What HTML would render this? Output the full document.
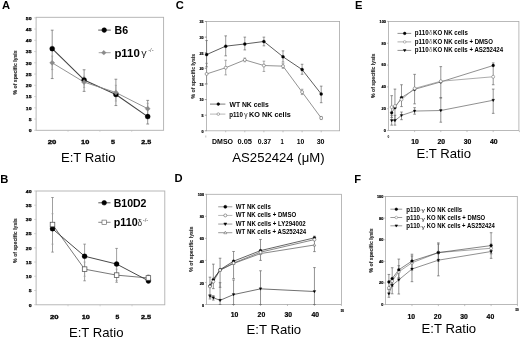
<!DOCTYPE html>
<html><head><meta charset="utf-8"><style>
html,body{margin:0;padding:0;background:#fff;}
body{width:520px;height:337px;overflow:hidden;}
svg{display:block;will-change:transform;filter:blur(0.3px);font-family:"Liberation Sans", sans-serif;}
</style></head><body>
<svg width="520" height="337" viewBox="0 0 520 337">
<rect width="520" height="337" fill="#fff"/>
<text x="1.90" y="8.90" font-size="11.2" text-anchor="start" font-weight="bold" fill="#000" >A</text>
<text x="0.30" y="182.70" font-size="11.2" text-anchor="start" font-weight="bold" fill="#000" >B</text>
<text x="175.70" y="8.80" font-size="11.2" text-anchor="start" font-weight="bold" fill="#000" >C</text>
<text x="174.50" y="182.00" font-size="11.2" text-anchor="start" font-weight="bold" fill="#000" >D</text>
<text x="355.00" y="8.90" font-size="11.2" text-anchor="start" font-weight="bold" fill="#000" >E</text>
<text x="354.30" y="182.80" font-size="11.2" text-anchor="start" font-weight="bold" fill="#000" >F</text>
<rect x="36.10" y="17.30" width="127.50" height="113.00" fill="none" stroke="#b0b0b0" stroke-width="0.9"/>
<line x1="34.10" y1="130.30" x2="36.10" y2="130.30" stroke="#bbb" stroke-width="0.6"/>
<text x="31.50" y="132.10" font-size="4.2" text-anchor="end" font-weight="bold" fill="#000" textLength="2.85" lengthAdjust="spacingAndGlyphs" stroke="#000" stroke-width="0.25">0</text>
<line x1="34.10" y1="119.05" x2="36.10" y2="119.05" stroke="#bbb" stroke-width="0.6"/>
<text x="31.50" y="120.85" font-size="4.2" text-anchor="end" font-weight="bold" fill="#000" textLength="2.85" lengthAdjust="spacingAndGlyphs" stroke="#000" stroke-width="0.25">5</text>
<line x1="34.10" y1="107.80" x2="36.10" y2="107.80" stroke="#bbb" stroke-width="0.6"/>
<text x="31.50" y="109.60" font-size="4.2" text-anchor="end" font-weight="bold" fill="#000" textLength="5.7" lengthAdjust="spacingAndGlyphs" stroke="#000" stroke-width="0.25">10</text>
<line x1="34.10" y1="96.55" x2="36.10" y2="96.55" stroke="#bbb" stroke-width="0.6"/>
<text x="31.50" y="98.35" font-size="4.2" text-anchor="end" font-weight="bold" fill="#000" textLength="5.7" lengthAdjust="spacingAndGlyphs" stroke="#000" stroke-width="0.25">15</text>
<line x1="34.10" y1="85.30" x2="36.10" y2="85.30" stroke="#bbb" stroke-width="0.6"/>
<text x="31.50" y="87.10" font-size="4.2" text-anchor="end" font-weight="bold" fill="#000" textLength="5.7" lengthAdjust="spacingAndGlyphs" stroke="#000" stroke-width="0.25">20</text>
<line x1="34.10" y1="74.05" x2="36.10" y2="74.05" stroke="#bbb" stroke-width="0.6"/>
<text x="31.50" y="75.85" font-size="4.2" text-anchor="end" font-weight="bold" fill="#000" textLength="5.7" lengthAdjust="spacingAndGlyphs" stroke="#000" stroke-width="0.25">25</text>
<line x1="34.10" y1="62.80" x2="36.10" y2="62.80" stroke="#bbb" stroke-width="0.6"/>
<text x="31.50" y="64.60" font-size="4.2" text-anchor="end" font-weight="bold" fill="#000" textLength="5.7" lengthAdjust="spacingAndGlyphs" stroke="#000" stroke-width="0.25">30</text>
<line x1="34.10" y1="51.55" x2="36.10" y2="51.55" stroke="#bbb" stroke-width="0.6"/>
<text x="31.50" y="53.35" font-size="4.2" text-anchor="end" font-weight="bold" fill="#000" textLength="5.7" lengthAdjust="spacingAndGlyphs" stroke="#000" stroke-width="0.25">35</text>
<line x1="34.10" y1="40.30" x2="36.10" y2="40.30" stroke="#bbb" stroke-width="0.6"/>
<text x="31.50" y="42.10" font-size="4.2" text-anchor="end" font-weight="bold" fill="#000" textLength="5.7" lengthAdjust="spacingAndGlyphs" stroke="#000" stroke-width="0.25">40</text>
<line x1="34.10" y1="29.05" x2="36.10" y2="29.05" stroke="#bbb" stroke-width="0.6"/>
<text x="31.50" y="30.85" font-size="4.2" text-anchor="end" font-weight="bold" fill="#000" textLength="5.7" lengthAdjust="spacingAndGlyphs" stroke="#000" stroke-width="0.25">45</text>
<line x1="34.10" y1="17.80" x2="36.10" y2="17.80" stroke="#bbb" stroke-width="0.6"/>
<text x="31.50" y="19.60" font-size="4.2" text-anchor="end" font-weight="bold" fill="#000" textLength="5.7" lengthAdjust="spacingAndGlyphs" stroke="#000" stroke-width="0.25">50</text>
<line x1="68.00" y1="130.30" x2="68.00" y2="131.80" stroke="#bbb" stroke-width="0.6"/>
<line x1="99.90" y1="130.30" x2="99.90" y2="131.80" stroke="#bbb" stroke-width="0.6"/>
<line x1="131.70" y1="130.30" x2="131.70" y2="131.80" stroke="#bbb" stroke-width="0.6"/>
<text x="52.00" y="144.00" font-size="5.6" text-anchor="middle" font-weight="bold" fill="#000" textLength="8.6" lengthAdjust="spacingAndGlyphs" stroke="#000" stroke-width="0.3">20</text>
<text x="85.20" y="144.00" font-size="5.6" text-anchor="middle" font-weight="bold" fill="#000" textLength="8.2" lengthAdjust="spacingAndGlyphs" stroke="#000" stroke-width="0.3">10</text>
<text x="113.00" y="144.00" font-size="5.6" text-anchor="middle" font-weight="bold" fill="#000" textLength="4.0" lengthAdjust="spacingAndGlyphs" stroke="#000" stroke-width="0.3">5</text>
<text x="146.20" y="144.00" font-size="5.6" text-anchor="middle" font-weight="bold" fill="#000" textLength="9.9" lengthAdjust="spacingAndGlyphs" stroke="#000" stroke-width="0.3">2.5</text>
<text x="60.90" y="161.90" font-size="13.2" text-anchor="start" font-weight="normal" fill="#000" textLength="54.6" lengthAdjust="spacingAndGlyphs" >E:T Ratio</text>
<text transform="translate(17.00,72.40) rotate(-90)" font-size="4.6" fill="#222" stroke="#444" stroke-width="0.12" text-anchor="middle" font-weight="bold" textLength="44.00" lengthAdjust="spacingAndGlyphs">% of specific lysis</text>
<line x1="52.20" y1="30.18" x2="52.20" y2="78.55" stroke="#777" stroke-width="0.8"/>
<line x1="50.80" y1="30.18" x2="53.60" y2="30.18" stroke="#777" stroke-width="0.8"/>
<line x1="50.80" y1="78.55" x2="53.60" y2="78.55" stroke="#777" stroke-width="0.8"/>
<line x1="84.10" y1="69.78" x2="84.10" y2="91.38" stroke="#777" stroke-width="0.8"/>
<line x1="82.70" y1="69.78" x2="85.50" y2="69.78" stroke="#777" stroke-width="0.8"/>
<line x1="82.70" y1="91.38" x2="85.50" y2="91.38" stroke="#777" stroke-width="0.8"/>
<line x1="115.90" y1="79.23" x2="115.90" y2="105.55" stroke="#777" stroke-width="0.8"/>
<line x1="114.50" y1="79.23" x2="117.30" y2="79.23" stroke="#777" stroke-width="0.8"/>
<line x1="114.50" y1="105.55" x2="117.30" y2="105.55" stroke="#777" stroke-width="0.8"/>
<line x1="147.70" y1="100.38" x2="147.70" y2="124.00" stroke="#777" stroke-width="0.8"/>
<line x1="146.30" y1="100.38" x2="149.10" y2="100.38" stroke="#777" stroke-width="0.8"/>
<line x1="146.30" y1="124.00" x2="149.10" y2="124.00" stroke="#777" stroke-width="0.8"/>
<line x1="52.20" y1="56.05" x2="52.20" y2="69.55" stroke="#999" stroke-width="0.6"/>
<line x1="51.10" y1="56.05" x2="53.30" y2="56.05" stroke="#999" stroke-width="0.6"/>
<line x1="51.10" y1="69.55" x2="53.30" y2="69.55" stroke="#999" stroke-width="0.6"/>
<line x1="84.10" y1="76.30" x2="84.10" y2="87.55" stroke="#999" stroke-width="0.6"/>
<line x1="83.00" y1="76.30" x2="85.20" y2="76.30" stroke="#999" stroke-width="0.6"/>
<line x1="83.00" y1="87.55" x2="85.20" y2="87.55" stroke="#999" stroke-width="0.6"/>
<line x1="115.90" y1="85.30" x2="115.90" y2="101.05" stroke="#999" stroke-width="0.6"/>
<line x1="114.80" y1="85.30" x2="117.00" y2="85.30" stroke="#999" stroke-width="0.6"/>
<line x1="114.80" y1="101.05" x2="117.00" y2="101.05" stroke="#999" stroke-width="0.6"/>
<line x1="147.70" y1="103.30" x2="147.70" y2="114.55" stroke="#999" stroke-width="0.6"/>
<line x1="146.60" y1="103.30" x2="148.80" y2="103.30" stroke="#999" stroke-width="0.6"/>
<line x1="146.60" y1="114.55" x2="148.80" y2="114.55" stroke="#999" stroke-width="0.6"/>
<polyline points="52.20,48.63 84.10,79.90 115.90,94.53 147.70,116.58" fill="none" stroke="#444" stroke-width="1.1" stroke-linejoin="round"/>
<polyline points="52.20,62.80 84.10,82.15 115.90,92.50 147.70,108.70" fill="none" stroke="#888" stroke-width="0.9" stroke-linejoin="round"/>
<circle cx="52.20" cy="48.63" r="2.5" fill="#000" stroke="#000" stroke-width="0.3"/>
<circle cx="84.10" cy="79.90" r="2.5" fill="#000" stroke="#000" stroke-width="0.3"/>
<circle cx="115.90" cy="94.53" r="2.5" fill="#000" stroke="#000" stroke-width="0.3"/>
<circle cx="147.70" cy="116.58" r="2.5" fill="#000" stroke="#000" stroke-width="0.3"/>
<polygon points="52.20,60.20 54.80,62.80 52.20,65.40 49.60,62.80" fill="#8a8a8a" stroke="#8a8a8a" stroke-width="0.3"/>
<polygon points="84.10,79.55 86.70,82.15 84.10,84.75 81.50,82.15" fill="#8a8a8a" stroke="#8a8a8a" stroke-width="0.3"/>
<polygon points="115.90,89.90 118.50,92.50 115.90,95.10 113.30,92.50" fill="#8a8a8a" stroke="#8a8a8a" stroke-width="0.3"/>
<polygon points="147.70,106.10 150.30,108.70 147.70,111.30 145.10,108.70" fill="#8a8a8a" stroke="#8a8a8a" stroke-width="0.3"/>
<line x1="98.20" y1="30.10" x2="110.80" y2="30.10" stroke="#444" stroke-width="0.9"/>
<circle cx="104.20" cy="30.10" r="2.3" fill="#000" stroke="#000" stroke-width="0.6"/>
<text x="114.60" y="34.20" font-size="10.4" text-anchor="start" font-weight="bold" fill="#000" textLength="13.6" lengthAdjust="spacingAndGlyphs" >B6</text>
<line x1="98.70" y1="52.70" x2="110.60" y2="52.70" stroke="#888" stroke-width="0.8"/>
<polygon points="103.80,50.30 106.20,52.70 103.80,55.10 101.40,52.70" fill="#8a8a8a" stroke="#8a8a8a" stroke-width="0.3"/>
<text x="114.40" y="57.10" font-size="10.4" text-anchor="start" font-weight="bold" fill="#000" textLength="25.4" lengthAdjust="spacingAndGlyphs" >p110</text>
<text x="141.30" y="56.40" font-size="8.6" text-anchor="start" font-weight="normal" fill="#222" textLength="5.4" lengthAdjust="spacingAndGlyphs" >&#947;</text>
<text x="148.20" y="52.30" font-size="5.2" text-anchor="start" font-weight="normal" fill="#555" textLength="5.4" lengthAdjust="spacingAndGlyphs" >-/-</text>
<rect x="36.10" y="191.00" width="128.70" height="113.80" fill="none" stroke="#b0b0b0" stroke-width="0.9"/>
<line x1="34.10" y1="304.70" x2="36.10" y2="304.70" stroke="#bbb" stroke-width="0.6"/>
<text x="31.50" y="306.50" font-size="4.2" text-anchor="end" font-weight="bold" fill="#000" textLength="2.85" lengthAdjust="spacingAndGlyphs" stroke="#000" stroke-width="0.25">0</text>
<line x1="34.10" y1="290.49" x2="36.10" y2="290.49" stroke="#bbb" stroke-width="0.6"/>
<text x="31.50" y="292.29" font-size="4.2" text-anchor="end" font-weight="bold" fill="#000" textLength="2.85" lengthAdjust="spacingAndGlyphs" stroke="#000" stroke-width="0.25">5</text>
<line x1="34.10" y1="276.27" x2="36.10" y2="276.27" stroke="#bbb" stroke-width="0.6"/>
<text x="31.50" y="278.07" font-size="4.2" text-anchor="end" font-weight="bold" fill="#000" textLength="5.7" lengthAdjust="spacingAndGlyphs" stroke="#000" stroke-width="0.25">10</text>
<line x1="34.10" y1="262.06" x2="36.10" y2="262.06" stroke="#bbb" stroke-width="0.6"/>
<text x="31.50" y="263.86" font-size="4.2" text-anchor="end" font-weight="bold" fill="#000" textLength="5.7" lengthAdjust="spacingAndGlyphs" stroke="#000" stroke-width="0.25">15</text>
<line x1="34.10" y1="247.84" x2="36.10" y2="247.84" stroke="#bbb" stroke-width="0.6"/>
<text x="31.50" y="249.64" font-size="4.2" text-anchor="end" font-weight="bold" fill="#000" textLength="5.7" lengthAdjust="spacingAndGlyphs" stroke="#000" stroke-width="0.25">20</text>
<line x1="34.10" y1="233.62" x2="36.10" y2="233.62" stroke="#bbb" stroke-width="0.6"/>
<text x="31.50" y="235.43" font-size="4.2" text-anchor="end" font-weight="bold" fill="#000" textLength="5.7" lengthAdjust="spacingAndGlyphs" stroke="#000" stroke-width="0.25">25</text>
<line x1="34.10" y1="219.41" x2="36.10" y2="219.41" stroke="#bbb" stroke-width="0.6"/>
<text x="31.50" y="221.21" font-size="4.2" text-anchor="end" font-weight="bold" fill="#000" textLength="5.7" lengthAdjust="spacingAndGlyphs" stroke="#000" stroke-width="0.25">30</text>
<line x1="34.10" y1="205.19" x2="36.10" y2="205.19" stroke="#bbb" stroke-width="0.6"/>
<text x="31.50" y="207.00" font-size="4.2" text-anchor="end" font-weight="bold" fill="#000" textLength="5.7" lengthAdjust="spacingAndGlyphs" stroke="#000" stroke-width="0.25">35</text>
<line x1="34.10" y1="190.98" x2="36.10" y2="190.98" stroke="#bbb" stroke-width="0.6"/>
<text x="31.50" y="192.78" font-size="4.2" text-anchor="end" font-weight="bold" fill="#000" textLength="5.7" lengthAdjust="spacingAndGlyphs" stroke="#000" stroke-width="0.25">40</text>
<line x1="68.00" y1="304.80" x2="68.00" y2="306.30" stroke="#bbb" stroke-width="0.6"/>
<line x1="100.10" y1="304.80" x2="100.10" y2="306.30" stroke="#bbb" stroke-width="0.6"/>
<line x1="132.00" y1="304.80" x2="132.00" y2="306.30" stroke="#bbb" stroke-width="0.6"/>
<text x="54.30" y="318.50" font-size="5.6" text-anchor="middle" font-weight="bold" fill="#000" textLength="8.6" lengthAdjust="spacingAndGlyphs" stroke="#000" stroke-width="0.3">20</text>
<text x="85.80" y="318.50" font-size="5.6" text-anchor="middle" font-weight="bold" fill="#000" textLength="8.2" lengthAdjust="spacingAndGlyphs" stroke="#000" stroke-width="0.3">10</text>
<text x="117.30" y="318.50" font-size="5.6" text-anchor="middle" font-weight="bold" fill="#000" textLength="3.8" lengthAdjust="spacingAndGlyphs" stroke="#000" stroke-width="0.3">5</text>
<text x="146.00" y="318.50" font-size="5.6" text-anchor="middle" font-weight="bold" fill="#000" textLength="10.2" lengthAdjust="spacingAndGlyphs" stroke="#000" stroke-width="0.3">2.5</text>
<text x="68.90" y="336.60" font-size="13.2" text-anchor="start" font-weight="normal" fill="#000" textLength="54.6" lengthAdjust="spacingAndGlyphs" >E:T Ratio</text>
<text transform="translate(17.20,240.60) rotate(-90)" font-size="4.6" fill="#222" stroke="#444" stroke-width="0.12" text-anchor="middle" font-weight="bold" textLength="44.60" lengthAdjust="spacingAndGlyphs">% of specific lysis</text>
<line x1="52.50" y1="197.52" x2="52.50" y2="252.10" stroke="#777" stroke-width="0.7"/>
<line x1="51.20" y1="197.52" x2="53.80" y2="197.52" stroke="#777" stroke-width="0.7"/>
<line x1="51.20" y1="252.10" x2="53.80" y2="252.10" stroke="#777" stroke-width="0.7"/>
<line x1="84.60" y1="244.14" x2="84.60" y2="280.82" stroke="#777" stroke-width="0.7"/>
<line x1="83.30" y1="244.14" x2="85.90" y2="244.14" stroke="#777" stroke-width="0.7"/>
<line x1="83.30" y1="280.82" x2="85.90" y2="280.82" stroke="#777" stroke-width="0.7"/>
<line x1="116.60" y1="248.41" x2="116.60" y2="282.24" stroke="#777" stroke-width="0.7"/>
<line x1="115.30" y1="248.41" x2="117.90" y2="248.41" stroke="#777" stroke-width="0.7"/>
<line x1="115.30" y1="282.24" x2="117.90" y2="282.24" stroke="#777" stroke-width="0.7"/>
<line x1="148.40" y1="275.42" x2="148.40" y2="283.38" stroke="#777" stroke-width="0.7"/>
<line x1="147.10" y1="275.42" x2="149.70" y2="275.42" stroke="#777" stroke-width="0.7"/>
<line x1="147.10" y1="283.38" x2="149.70" y2="283.38" stroke="#777" stroke-width="0.7"/>
<line x1="52.50" y1="213.72" x2="52.50" y2="244.14" stroke="#999" stroke-width="0.6"/>
<line x1="51.40" y1="213.72" x2="53.60" y2="213.72" stroke="#999" stroke-width="0.6"/>
<line x1="51.40" y1="244.14" x2="53.60" y2="244.14" stroke="#999" stroke-width="0.6"/>
<line x1="84.60" y1="262.06" x2="84.60" y2="276.27" stroke="#999" stroke-width="0.6"/>
<line x1="83.50" y1="262.06" x2="85.70" y2="262.06" stroke="#999" stroke-width="0.6"/>
<line x1="83.50" y1="276.27" x2="85.70" y2="276.27" stroke="#999" stroke-width="0.6"/>
<line x1="116.60" y1="269.16" x2="116.60" y2="280.53" stroke="#999" stroke-width="0.6"/>
<line x1="115.50" y1="269.16" x2="117.70" y2="269.16" stroke="#999" stroke-width="0.6"/>
<line x1="115.50" y1="280.53" x2="117.70" y2="280.53" stroke="#999" stroke-width="0.6"/>
<line x1="148.40" y1="274.85" x2="148.40" y2="280.53" stroke="#999" stroke-width="0.6"/>
<line x1="147.30" y1="274.85" x2="149.50" y2="274.85" stroke="#999" stroke-width="0.6"/>
<line x1="147.30" y1="280.53" x2="149.50" y2="280.53" stroke="#999" stroke-width="0.6"/>
<polyline points="52.50,224.53 84.60,269.16 116.60,275.13 148.40,277.98" fill="none" stroke="#555" stroke-width="0.8" stroke-linejoin="round"/>
<polyline points="52.50,228.79 84.60,256.23 116.60,264.05 148.40,280.82" fill="none" stroke="#333" stroke-width="0.9" stroke-linejoin="round"/>
<circle cx="52.50" cy="228.79" r="2.5" fill="#000" stroke="#000" stroke-width="0.3"/>
<circle cx="84.60" cy="256.23" r="2.5" fill="#000" stroke="#000" stroke-width="0.3"/>
<circle cx="116.60" cy="264.05" r="2.5" fill="#000" stroke="#000" stroke-width="0.3"/>
<circle cx="148.40" cy="280.82" r="2.5" fill="#000" stroke="#000" stroke-width="0.3"/>
<rect x="50.20" y="222.23" width="4.6" height="4.6" fill="#fff" stroke="#444" stroke-width="0.7"/>
<rect x="82.30" y="266.86" width="4.6" height="4.6" fill="#fff" stroke="#444" stroke-width="0.7"/>
<rect x="114.30" y="272.83" width="4.6" height="4.6" fill="#fff" stroke="#444" stroke-width="0.7"/>
<rect x="146.10" y="275.68" width="4.6" height="4.6" fill="#fff" stroke="#444" stroke-width="0.7"/>
<line x1="98.30" y1="202.80" x2="110.50" y2="202.80" stroke="#444" stroke-width="0.9"/>
<circle cx="104.20" cy="202.80" r="2.3" fill="#000" stroke="#000" stroke-width="0.6"/>
<text x="113.70" y="206.70" font-size="11" text-anchor="start" font-weight="bold" fill="#000" textLength="32.8" lengthAdjust="spacingAndGlyphs" >B10D2</text>
<line x1="98.30" y1="222.30" x2="110.50" y2="222.30" stroke="#555" stroke-width="0.7"/>
<rect x="102.00" y="220.10" width="4.4" height="4.4" fill="#fff" stroke="#555" stroke-width="0.6"/>
<text x="113.70" y="226.30" font-size="11" text-anchor="start" font-weight="bold" fill="#000" textLength="24" lengthAdjust="spacingAndGlyphs" >p110</text>
<text x="137.40" y="226.30" font-size="9.5" text-anchor="start" font-weight="normal" fill="#333" textLength="4.6" lengthAdjust="spacingAndGlyphs" >&#948;</text>
<text x="142.70" y="222.00" font-size="5.2" text-anchor="start" font-weight="normal" fill="#555" textLength="5.6" lengthAdjust="spacingAndGlyphs" >-/-</text>
<rect x="206.60" y="21.50" width="133.00" height="109.30" fill="none" stroke="#a8a8a8" stroke-width="0.8"/>
<line x1="204.80" y1="130.80" x2="206.60" y2="130.80" stroke="#555" stroke-width="0.6"/>
<text x="203.60" y="132.60" font-size="4.0" text-anchor="end" font-weight="bold" fill="#000" textLength="2.1" lengthAdjust="spacingAndGlyphs" stroke="#000" stroke-width="0.2">0</text>
<line x1="204.80" y1="115.19" x2="206.60" y2="115.19" stroke="#555" stroke-width="0.6"/>
<text x="203.60" y="116.98" font-size="4.0" text-anchor="end" font-weight="bold" fill="#000" textLength="2.1" lengthAdjust="spacingAndGlyphs" stroke="#000" stroke-width="0.2">5</text>
<line x1="204.80" y1="99.57" x2="206.60" y2="99.57" stroke="#555" stroke-width="0.6"/>
<text x="203.60" y="101.37" font-size="4.0" text-anchor="end" font-weight="bold" fill="#000" textLength="4.1" lengthAdjust="spacingAndGlyphs" stroke="#000" stroke-width="0.2">10</text>
<line x1="204.80" y1="83.96" x2="206.60" y2="83.96" stroke="#555" stroke-width="0.6"/>
<text x="203.60" y="85.76" font-size="4.0" text-anchor="end" font-weight="bold" fill="#000" textLength="4.1" lengthAdjust="spacingAndGlyphs" stroke="#000" stroke-width="0.2">15</text>
<line x1="204.80" y1="68.34" x2="206.60" y2="68.34" stroke="#555" stroke-width="0.6"/>
<text x="203.60" y="70.14" font-size="4.0" text-anchor="end" font-weight="bold" fill="#000" textLength="4.1" lengthAdjust="spacingAndGlyphs" stroke="#000" stroke-width="0.2">20</text>
<line x1="204.80" y1="52.73" x2="206.60" y2="52.73" stroke="#555" stroke-width="0.6"/>
<text x="203.60" y="54.53" font-size="4.0" text-anchor="end" font-weight="bold" fill="#000" textLength="4.1" lengthAdjust="spacingAndGlyphs" stroke="#000" stroke-width="0.2">25</text>
<line x1="204.80" y1="37.11" x2="206.60" y2="37.11" stroke="#555" stroke-width="0.6"/>
<text x="203.60" y="38.91" font-size="4.0" text-anchor="end" font-weight="bold" fill="#000" textLength="4.1" lengthAdjust="spacingAndGlyphs" stroke="#000" stroke-width="0.2">30</text>
<line x1="204.80" y1="21.50" x2="206.60" y2="21.50" stroke="#555" stroke-width="0.6"/>
<text x="203.60" y="23.30" font-size="4.0" text-anchor="end" font-weight="bold" fill="#000" textLength="4.1" lengthAdjust="spacingAndGlyphs" stroke="#000" stroke-width="0.2">35</text>
<line x1="225.70" y1="130.80" x2="225.70" y2="132.30" stroke="#999" stroke-width="0.6"/>
<line x1="244.80" y1="130.80" x2="244.80" y2="132.30" stroke="#999" stroke-width="0.6"/>
<line x1="263.90" y1="130.80" x2="263.90" y2="132.30" stroke="#999" stroke-width="0.6"/>
<line x1="283.00" y1="130.80" x2="283.00" y2="132.30" stroke="#999" stroke-width="0.6"/>
<line x1="302.10" y1="130.80" x2="302.10" y2="132.30" stroke="#999" stroke-width="0.6"/>
<line x1="321.20" y1="130.80" x2="321.20" y2="132.30" stroke="#999" stroke-width="0.6"/>
<line x1="205.80" y1="135.50" x2="205.80" y2="137.50" stroke="#999" stroke-width="0.6"/>
<text x="222.50" y="143.90" font-size="6.6" text-anchor="middle" font-weight="bold" fill="#000" textLength="21.0" lengthAdjust="spacingAndGlyphs" >DMSO</text>
<text x="244.70" y="143.90" font-size="6.6" text-anchor="middle" font-weight="bold" fill="#000" textLength="14.6" lengthAdjust="spacingAndGlyphs" >0.05</text>
<text x="264.40" y="143.90" font-size="6.6" text-anchor="middle" font-weight="bold" fill="#000" textLength="13.4" lengthAdjust="spacingAndGlyphs" >0.37</text>
<text x="282.10" y="143.90" font-size="6.6" text-anchor="middle" font-weight="bold" fill="#000" textLength="3.3" lengthAdjust="spacingAndGlyphs" >1</text>
<text x="300.60" y="143.90" font-size="6.6" text-anchor="middle" font-weight="bold" fill="#000" textLength="7.6" lengthAdjust="spacingAndGlyphs" >10</text>
<text x="320.60" y="143.90" font-size="6.6" text-anchor="middle" font-weight="bold" fill="#000" textLength="7.9" lengthAdjust="spacingAndGlyphs" >30</text>
<text x="232.30" y="161.70" font-size="13.2" text-anchor="start" font-weight="normal" fill="#000" textLength="92.3" lengthAdjust="spacingAndGlyphs" >AS252424 (&#956;M)</text>
<text transform="translate(195.20,76.20) rotate(-90)" font-size="4.6" fill="#222" stroke="#444" stroke-width="0.12" text-anchor="middle" font-weight="bold" textLength="44.50" lengthAdjust="spacingAndGlyphs">% of specific lysis</text>
<line x1="206.60" y1="40.55" x2="206.60" y2="66.78" stroke="#555" stroke-width="0.6"/>
<line x1="205.30" y1="40.55" x2="207.90" y2="40.55" stroke="#555" stroke-width="0.6"/>
<line x1="205.30" y1="66.78" x2="207.90" y2="66.78" stroke="#555" stroke-width="0.6"/>
<line x1="225.70" y1="35.86" x2="225.70" y2="55.85" stroke="#555" stroke-width="0.6"/>
<line x1="224.40" y1="35.86" x2="227.00" y2="35.86" stroke="#555" stroke-width="0.6"/>
<line x1="224.40" y1="55.85" x2="227.00" y2="55.85" stroke="#555" stroke-width="0.6"/>
<line x1="244.80" y1="37.11" x2="244.80" y2="49.91" stroke="#555" stroke-width="0.6"/>
<line x1="243.50" y1="37.11" x2="246.10" y2="37.11" stroke="#555" stroke-width="0.6"/>
<line x1="243.50" y1="49.91" x2="246.10" y2="49.91" stroke="#555" stroke-width="0.6"/>
<line x1="263.90" y1="37.11" x2="263.90" y2="45.85" stroke="#555" stroke-width="0.6"/>
<line x1="262.60" y1="37.11" x2="265.20" y2="37.11" stroke="#555" stroke-width="0.6"/>
<line x1="262.60" y1="45.85" x2="265.20" y2="45.85" stroke="#555" stroke-width="0.6"/>
<line x1="283.00" y1="50.85" x2="283.00" y2="62.09" stroke="#555" stroke-width="0.6"/>
<line x1="281.70" y1="50.85" x2="284.30" y2="50.85" stroke="#555" stroke-width="0.6"/>
<line x1="281.70" y1="62.09" x2="284.30" y2="62.09" stroke="#555" stroke-width="0.6"/>
<line x1="302.10" y1="64.28" x2="302.10" y2="74.27" stroke="#555" stroke-width="0.6"/>
<line x1="300.80" y1="64.28" x2="303.40" y2="64.28" stroke="#555" stroke-width="0.6"/>
<line x1="300.80" y1="74.27" x2="303.40" y2="74.27" stroke="#555" stroke-width="0.6"/>
<line x1="321.20" y1="86.14" x2="321.20" y2="102.69" stroke="#555" stroke-width="0.6"/>
<line x1="319.90" y1="86.14" x2="322.50" y2="86.14" stroke="#555" stroke-width="0.6"/>
<line x1="319.90" y1="102.69" x2="322.50" y2="102.69" stroke="#555" stroke-width="0.6"/>
<line x1="206.60" y1="63.34" x2="206.60" y2="83.96" stroke="#777" stroke-width="0.6"/>
<line x1="205.30" y1="63.34" x2="207.90" y2="63.34" stroke="#777" stroke-width="0.6"/>
<line x1="205.30" y1="83.96" x2="207.90" y2="83.96" stroke="#777" stroke-width="0.6"/>
<line x1="225.70" y1="60.22" x2="225.70" y2="74.90" stroke="#777" stroke-width="0.6"/>
<line x1="224.40" y1="60.22" x2="227.00" y2="60.22" stroke="#777" stroke-width="0.6"/>
<line x1="224.40" y1="74.90" x2="227.00" y2="74.90" stroke="#777" stroke-width="0.6"/>
<line x1="244.80" y1="58.03" x2="244.80" y2="61.78" stroke="#777" stroke-width="0.6"/>
<line x1="243.50" y1="58.03" x2="246.10" y2="58.03" stroke="#777" stroke-width="0.6"/>
<line x1="243.50" y1="61.78" x2="246.10" y2="61.78" stroke="#777" stroke-width="0.6"/>
<line x1="263.90" y1="61.16" x2="263.90" y2="71.46" stroke="#777" stroke-width="0.6"/>
<line x1="262.60" y1="61.16" x2="265.20" y2="61.16" stroke="#777" stroke-width="0.6"/>
<line x1="262.60" y1="71.46" x2="265.20" y2="71.46" stroke="#777" stroke-width="0.6"/>
<line x1="283.00" y1="63.66" x2="283.00" y2="68.34" stroke="#777" stroke-width="0.6"/>
<line x1="281.70" y1="63.66" x2="284.30" y2="63.66" stroke="#777" stroke-width="0.6"/>
<line x1="281.70" y1="68.34" x2="284.30" y2="68.34" stroke="#777" stroke-width="0.6"/>
<line x1="302.10" y1="89.26" x2="302.10" y2="94.57" stroke="#777" stroke-width="0.6"/>
<line x1="300.80" y1="89.26" x2="303.40" y2="89.26" stroke="#777" stroke-width="0.6"/>
<line x1="300.80" y1="94.57" x2="303.40" y2="94.57" stroke="#777" stroke-width="0.6"/>
<line x1="321.20" y1="116.43" x2="321.20" y2="119.56" stroke="#777" stroke-width="0.6"/>
<line x1="319.90" y1="116.43" x2="322.50" y2="116.43" stroke="#777" stroke-width="0.6"/>
<line x1="319.90" y1="119.56" x2="322.50" y2="119.56" stroke="#777" stroke-width="0.6"/>
<polyline points="206.60,73.96 225.70,67.72 244.80,59.91 263.90,65.53 283.00,66.15 302.10,92.07 321.20,118.00" fill="none" stroke="#777" stroke-width="0.8" stroke-linejoin="round"/>
<polyline points="206.60,54.60 225.70,46.17 244.80,43.98 263.90,41.48 283.00,56.78 302.10,69.59 321.20,93.95" fill="none" stroke="#333" stroke-width="0.8" stroke-linejoin="round"/>
<circle cx="206.60" cy="54.60" r="1.5" fill="#000" stroke="#000" stroke-width="0.3"/>
<circle cx="225.70" cy="46.17" r="1.5" fill="#000" stroke="#000" stroke-width="0.3"/>
<circle cx="244.80" cy="43.98" r="1.5" fill="#000" stroke="#000" stroke-width="0.3"/>
<circle cx="263.90" cy="41.48" r="1.5" fill="#000" stroke="#000" stroke-width="0.3"/>
<circle cx="283.00" cy="56.78" r="1.5" fill="#000" stroke="#000" stroke-width="0.3"/>
<circle cx="302.10" cy="69.59" r="1.5" fill="#000" stroke="#000" stroke-width="0.3"/>
<circle cx="321.20" cy="93.95" r="1.5" fill="#000" stroke="#000" stroke-width="0.3"/>
<circle cx="206.60" cy="73.96" r="1.5" fill="#fff" stroke="#666" stroke-width="0.6"/>
<circle cx="225.70" cy="67.72" r="1.5" fill="#fff" stroke="#666" stroke-width="0.6"/>
<circle cx="244.80" cy="59.91" r="1.5" fill="#fff" stroke="#666" stroke-width="0.6"/>
<circle cx="263.90" cy="65.53" r="1.5" fill="#fff" stroke="#666" stroke-width="0.6"/>
<circle cx="283.00" cy="66.15" r="1.5" fill="#fff" stroke="#666" stroke-width="0.6"/>
<circle cx="302.10" cy="92.07" r="1.5" fill="#fff" stroke="#666" stroke-width="0.6"/>
<circle cx="321.20" cy="118.00" r="1.5" fill="#fff" stroke="#666" stroke-width="0.6"/>
<line x1="210.00" y1="104.10" x2="225.40" y2="104.10" stroke="#444" stroke-width="0.7"/>
<circle cx="218.30" cy="104.10" r="1.3" fill="#000" stroke="#000" stroke-width="0.6"/>
<text x="229.50" y="107.10" font-size="7.8" text-anchor="start" font-weight="bold" fill="#000" textLength="39.3" lengthAdjust="spacingAndGlyphs" >WT NK cells</text>
<line x1="210.00" y1="114.10" x2="225.40" y2="114.10" stroke="#999" stroke-width="0.7"/>
<circle cx="218.30" cy="114.10" r="1.3" fill="#fff" stroke="#777" stroke-width="0.6"/>
<text x="229.20" y="117.10" font-size="7.8" text-anchor="start" font-weight="bold" fill="#000" textLength="13.8" lengthAdjust="spacingAndGlyphs" >p110</text>
<text x="244.20" y="117.10" font-size="6.5" text-anchor="start" font-weight="normal" fill="#222" textLength="3.3" lengthAdjust="spacingAndGlyphs" >&#947;</text>
<text x="249.10" y="117.10" font-size="7.8" text-anchor="start" font-weight="bold" fill="#000" textLength="41.6" lengthAdjust="spacingAndGlyphs" >KO NK cells</text>
<rect x="206.50" y="194.30" width="134.90" height="110.20" fill="none" stroke="#a8a8a8" stroke-width="0.8"/>
<line x1="205.00" y1="304.50" x2="206.50" y2="304.50" stroke="#999" stroke-width="0.6"/>
<text x="204.00" y="306.60" font-size="4.0" text-anchor="end" font-weight="bold" fill="#000" textLength="2.1" lengthAdjust="spacingAndGlyphs" stroke="#000" stroke-width="0.2">0</text>
<line x1="205.00" y1="282.46" x2="206.50" y2="282.46" stroke="#999" stroke-width="0.6"/>
<text x="204.00" y="284.56" font-size="4.0" text-anchor="end" font-weight="bold" fill="#000" textLength="4.3" lengthAdjust="spacingAndGlyphs" stroke="#000" stroke-width="0.2">20</text>
<line x1="205.00" y1="260.42" x2="206.50" y2="260.42" stroke="#999" stroke-width="0.6"/>
<text x="204.00" y="262.52" font-size="4.0" text-anchor="end" font-weight="bold" fill="#000" textLength="4.3" lengthAdjust="spacingAndGlyphs" stroke="#000" stroke-width="0.2">40</text>
<line x1="205.00" y1="238.38" x2="206.50" y2="238.38" stroke="#999" stroke-width="0.6"/>
<text x="204.00" y="240.48" font-size="4.0" text-anchor="end" font-weight="bold" fill="#000" textLength="4.3" lengthAdjust="spacingAndGlyphs" stroke="#000" stroke-width="0.2">60</text>
<line x1="205.00" y1="216.34" x2="206.50" y2="216.34" stroke="#999" stroke-width="0.6"/>
<text x="204.00" y="218.44" font-size="4.0" text-anchor="end" font-weight="bold" fill="#000" textLength="4.3" lengthAdjust="spacingAndGlyphs" stroke="#000" stroke-width="0.2">80</text>
<line x1="205.00" y1="194.30" x2="206.50" y2="194.30" stroke="#999" stroke-width="0.6"/>
<text x="204.00" y="196.40" font-size="4.0" text-anchor="end" font-weight="bold" fill="#000" textLength="6.3" lengthAdjust="spacingAndGlyphs" stroke="#000" stroke-width="0.2">100</text>
<text transform="translate(193.00,249.20) rotate(-90)" font-size="4.6" fill="#222" stroke="#444" stroke-width="0.12" text-anchor="middle" font-weight="bold" textLength="45.10" lengthAdjust="spacingAndGlyphs">% of specific lysis</text>
<line x1="233.56" y1="304.50" x2="233.56" y2="306.00" stroke="#999" stroke-width="0.6"/>
<line x1="260.52" y1="304.50" x2="260.52" y2="306.00" stroke="#999" stroke-width="0.6"/>
<line x1="287.48" y1="304.50" x2="287.48" y2="306.00" stroke="#999" stroke-width="0.6"/>
<line x1="314.44" y1="304.50" x2="314.44" y2="306.00" stroke="#999" stroke-width="0.6"/>
<line x1="341.40" y1="304.50" x2="341.40" y2="306.00" stroke="#999" stroke-width="0.6"/>
<text x="234.46" y="316.75" font-size="7.0" text-anchor="middle" font-weight="bold" fill="#000" textLength="7.6" lengthAdjust="spacingAndGlyphs" stroke="#000" stroke-width="0.2">10</text>
<text x="261.42" y="316.75" font-size="7.0" text-anchor="middle" font-weight="bold" fill="#000" textLength="7.6" lengthAdjust="spacingAndGlyphs" stroke="#000" stroke-width="0.2">20</text>
<text x="288.38" y="316.75" font-size="7.0" text-anchor="middle" font-weight="bold" fill="#000" textLength="7.6" lengthAdjust="spacingAndGlyphs" stroke="#000" stroke-width="0.2">30</text>
<text x="315.34" y="316.75" font-size="7.0" text-anchor="middle" font-weight="bold" fill="#000" textLength="7.6" lengthAdjust="spacingAndGlyphs" stroke="#000" stroke-width="0.2">40</text>
<text x="342.30" y="311.50" font-size="3.0" text-anchor="middle" font-weight="bold" fill="#000" textLength="3.2" lengthAdjust="spacingAndGlyphs" stroke="#000" stroke-width="0.15">50</text>
<text x="246.60" y="334.30" font-size="13.2" text-anchor="start" font-weight="normal" fill="#000" textLength="54.6" lengthAdjust="spacingAndGlyphs" >E:T Ratio</text>
<text x="206.60" y="0.00" font-size="1" text-anchor="start" font-weight="bold" fill="#000" ></text>
<line x1="209.97" y1="277.17" x2="209.97" y2="294.58" stroke="#666" stroke-width="0.7"/>
<line x1="208.67" y1="277.17" x2="211.27" y2="277.17" stroke="#666" stroke-width="0.7"/>
<line x1="208.67" y1="294.58" x2="211.27" y2="294.58" stroke="#666" stroke-width="0.7"/>
<line x1="213.34" y1="264.17" x2="213.34" y2="288.63" stroke="#666" stroke-width="0.7"/>
<line x1="212.04" y1="264.17" x2="214.64" y2="264.17" stroke="#666" stroke-width="0.7"/>
<line x1="212.04" y1="288.63" x2="214.64" y2="288.63" stroke="#666" stroke-width="0.7"/>
<line x1="220.08" y1="258.22" x2="220.08" y2="287.31" stroke="#666" stroke-width="0.7"/>
<line x1="218.78" y1="258.22" x2="221.38" y2="258.22" stroke="#666" stroke-width="0.7"/>
<line x1="218.78" y1="287.31" x2="221.38" y2="287.31" stroke="#666" stroke-width="0.7"/>
<line x1="233.56" y1="251.49" x2="233.56" y2="278.60" stroke="#666" stroke-width="0.7"/>
<line x1="232.26" y1="251.49" x2="234.86" y2="251.49" stroke="#666" stroke-width="0.7"/>
<line x1="232.26" y1="278.60" x2="234.86" y2="278.60" stroke="#666" stroke-width="0.7"/>
<line x1="260.52" y1="239.48" x2="260.52" y2="260.42" stroke="#666" stroke-width="0.7"/>
<line x1="259.22" y1="239.48" x2="261.82" y2="239.48" stroke="#666" stroke-width="0.7"/>
<line x1="259.22" y1="260.42" x2="261.82" y2="260.42" stroke="#666" stroke-width="0.7"/>
<line x1="314.44" y1="236.18" x2="314.44" y2="251.60" stroke="#666" stroke-width="0.7"/>
<line x1="313.14" y1="236.18" x2="315.74" y2="236.18" stroke="#666" stroke-width="0.7"/>
<line x1="313.14" y1="251.60" x2="315.74" y2="251.60" stroke="#666" stroke-width="0.7"/>
<line x1="209.97" y1="294.58" x2="209.97" y2="298.99" stroke="#666" stroke-width="0.7"/>
<line x1="208.67" y1="294.58" x2="211.27" y2="294.58" stroke="#666" stroke-width="0.7"/>
<line x1="208.67" y1="298.99" x2="211.27" y2="298.99" stroke="#666" stroke-width="0.7"/>
<line x1="213.34" y1="295.68" x2="213.34" y2="300.09" stroke="#666" stroke-width="0.7"/>
<line x1="212.04" y1="295.68" x2="214.64" y2="295.68" stroke="#666" stroke-width="0.7"/>
<line x1="212.04" y1="300.09" x2="214.64" y2="300.09" stroke="#666" stroke-width="0.7"/>
<line x1="220.08" y1="282.68" x2="220.08" y2="304.50" stroke="#666" stroke-width="0.7"/>
<line x1="218.78" y1="282.68" x2="221.38" y2="282.68" stroke="#666" stroke-width="0.7"/>
<line x1="218.78" y1="304.50" x2="221.38" y2="304.50" stroke="#666" stroke-width="0.7"/>
<line x1="233.56" y1="280.04" x2="233.56" y2="304.50" stroke="#666" stroke-width="0.7"/>
<line x1="232.26" y1="280.04" x2="234.86" y2="280.04" stroke="#666" stroke-width="0.7"/>
<line x1="232.26" y1="304.50" x2="234.86" y2="304.50" stroke="#666" stroke-width="0.7"/>
<line x1="260.52" y1="270.78" x2="260.52" y2="304.50" stroke="#666" stroke-width="0.7"/>
<line x1="259.22" y1="270.78" x2="261.82" y2="270.78" stroke="#666" stroke-width="0.7"/>
<line x1="259.22" y1="304.50" x2="261.82" y2="304.50" stroke="#666" stroke-width="0.7"/>
<line x1="314.44" y1="267.58" x2="314.44" y2="304.50" stroke="#666" stroke-width="0.7"/>
<line x1="313.14" y1="267.58" x2="315.74" y2="267.58" stroke="#666" stroke-width="0.7"/>
<line x1="313.14" y1="304.50" x2="315.74" y2="304.50" stroke="#666" stroke-width="0.7"/>
<polyline points="209.97,285.99 213.34,278.93 220.08,270.23 233.56,263.51 260.52,253.59 314.44,244.99" fill="none" stroke="#555" stroke-width="0.7" stroke-linejoin="round"/>
<polyline points="209.97,286.43 213.34,281.58 220.08,270.01 233.56,263.06 260.52,252.16 314.44,239.59" fill="none" stroke="#555" stroke-width="0.7" stroke-linejoin="round"/>
<polyline points="209.97,285.99 213.34,279.82 220.08,269.68 233.56,261.19 260.52,250.61 314.44,237.83" fill="none" stroke="#222" stroke-width="0.7" stroke-linejoin="round"/>
<polyline points="209.97,296.24 213.34,297.78 220.08,300.31 233.56,294.58 260.52,288.85 314.44,291.50" fill="none" stroke="#333" stroke-width="0.7" stroke-linejoin="round"/>
<polygon points="208.57,286.97 211.37,286.97 209.97,284.59" fill="#fff" stroke="#555" stroke-width="0.5"/>
<polygon points="211.94,279.91 214.74,279.91 213.34,277.53" fill="#fff" stroke="#555" stroke-width="0.5"/>
<polygon points="218.68,271.21 221.48,271.21 220.08,268.83" fill="#fff" stroke="#555" stroke-width="0.5"/>
<polygon points="232.16,264.49 234.96,264.49 233.56,262.11" fill="#fff" stroke="#555" stroke-width="0.5"/>
<polygon points="259.12,254.57 261.92,254.57 260.52,252.19" fill="#fff" stroke="#555" stroke-width="0.5"/>
<polygon points="313.04,245.97 315.84,245.97 314.44,243.59" fill="#fff" stroke="#555" stroke-width="0.5"/>
<circle cx="209.97" cy="285.99" r="1.4" fill="#000" stroke="#000" stroke-width="0.3"/>
<circle cx="213.34" cy="279.82" r="1.4" fill="#000" stroke="#000" stroke-width="0.3"/>
<circle cx="220.08" cy="269.68" r="1.4" fill="#000" stroke="#000" stroke-width="0.3"/>
<circle cx="233.56" cy="261.19" r="1.4" fill="#000" stroke="#000" stroke-width="0.3"/>
<circle cx="260.52" cy="250.61" r="1.4" fill="#000" stroke="#000" stroke-width="0.3"/>
<circle cx="314.44" cy="237.83" r="1.4" fill="#000" stroke="#000" stroke-width="0.3"/>
<circle cx="209.97" cy="286.43" r="1.5" fill="#fff" stroke="#444" stroke-width="0.5"/>
<circle cx="213.34" cy="281.58" r="1.5" fill="#fff" stroke="#444" stroke-width="0.5"/>
<circle cx="220.08" cy="270.01" r="1.5" fill="#fff" stroke="#444" stroke-width="0.5"/>
<circle cx="233.56" cy="263.06" r="1.5" fill="#fff" stroke="#444" stroke-width="0.5"/>
<circle cx="260.52" cy="252.16" r="1.5" fill="#fff" stroke="#444" stroke-width="0.5"/>
<circle cx="314.44" cy="239.59" r="1.5" fill="#fff" stroke="#444" stroke-width="0.5"/>
<polygon points="208.57,295.25 211.37,295.25 209.97,297.63" fill="#000" stroke="#000" stroke-width="0.3"/>
<polygon points="211.94,296.80 214.74,296.80 213.34,299.18" fill="#000" stroke="#000" stroke-width="0.3"/>
<polygon points="218.68,299.33 221.48,299.33 220.08,301.71" fill="#000" stroke="#000" stroke-width="0.3"/>
<polygon points="232.16,293.60 234.96,293.60 233.56,295.98" fill="#000" stroke="#000" stroke-width="0.3"/>
<polygon points="259.12,287.87 261.92,287.87 260.52,290.25" fill="#000" stroke="#000" stroke-width="0.3"/>
<polygon points="313.04,290.52 315.84,290.52 314.44,292.90" fill="#000" stroke="#000" stroke-width="0.3"/>
<line x1="218.20" y1="206.80" x2="232.30" y2="206.80" stroke="#555" stroke-width="0.6"/>
<circle cx="225.30" cy="206.80" r="1.5" fill="#000" stroke="#000" stroke-width="0.5"/>
<text x="235.80" y="208.70" font-size="6.4" text-anchor="start" font-weight="bold" fill="#000" textLength="35" lengthAdjust="spacingAndGlyphs" >WT NK cells</text>
<line x1="218.20" y1="215.43" x2="232.30" y2="215.43" stroke="#888" stroke-width="0.6"/>
<circle cx="225.30" cy="215.43" r="1.5" fill="#fff" stroke="#444" stroke-width="0.5"/>
<text x="235.80" y="217.17" font-size="6.4" text-anchor="start" font-weight="bold" fill="#000" textLength="60.4" lengthAdjust="spacingAndGlyphs" >WT NK cells + DMSO</text>
<line x1="218.20" y1="224.06" x2="232.30" y2="224.06" stroke="#555" stroke-width="0.6"/>
<polygon points="223.80,223.01 226.80,223.01 225.30,225.56" fill="#000" stroke="#000" stroke-width="0.5"/>
<text x="235.80" y="225.64" font-size="6.4" text-anchor="start" font-weight="bold" fill="#000" textLength="69.9" lengthAdjust="spacingAndGlyphs" >WT NK cells + LY294002</text>
<line x1="218.20" y1="232.69" x2="232.30" y2="232.69" stroke="#555" stroke-width="0.6"/>
<polygon points="223.80,233.74 226.80,233.74 225.30,231.19" fill="#fff" stroke="#555" stroke-width="0.5"/>
<text x="235.80" y="234.11" font-size="6.4" text-anchor="start" font-weight="bold" fill="#000" textLength="70.4" lengthAdjust="spacingAndGlyphs" >WT NK cells + AS252424</text>
<rect x="388.40" y="21.40" width="130.50" height="109.20" fill="none" stroke="#a8a8a8" stroke-width="0.8"/>
<line x1="386.90" y1="130.60" x2="388.40" y2="130.60" stroke="#999" stroke-width="0.6"/>
<text x="385.90" y="131.90" font-size="4.0" text-anchor="end" font-weight="bold" fill="#000" textLength="2.1" lengthAdjust="spacingAndGlyphs" stroke="#000" stroke-width="0.2">0</text>
<line x1="386.90" y1="108.76" x2="388.40" y2="108.76" stroke="#999" stroke-width="0.6"/>
<text x="385.90" y="110.06" font-size="4.0" text-anchor="end" font-weight="bold" fill="#000" textLength="4.3" lengthAdjust="spacingAndGlyphs" stroke="#000" stroke-width="0.2">20</text>
<line x1="386.90" y1="86.92" x2="388.40" y2="86.92" stroke="#999" stroke-width="0.6"/>
<text x="385.90" y="88.22" font-size="4.0" text-anchor="end" font-weight="bold" fill="#000" textLength="4.3" lengthAdjust="spacingAndGlyphs" stroke="#000" stroke-width="0.2">40</text>
<line x1="386.90" y1="65.08" x2="388.40" y2="65.08" stroke="#999" stroke-width="0.6"/>
<text x="385.90" y="66.38" font-size="4.0" text-anchor="end" font-weight="bold" fill="#000" textLength="4.3" lengthAdjust="spacingAndGlyphs" stroke="#000" stroke-width="0.2">60</text>
<line x1="386.90" y1="43.24" x2="388.40" y2="43.24" stroke="#999" stroke-width="0.6"/>
<text x="385.90" y="44.54" font-size="4.0" text-anchor="end" font-weight="bold" fill="#000" textLength="4.3" lengthAdjust="spacingAndGlyphs" stroke="#000" stroke-width="0.2">80</text>
<line x1="386.90" y1="21.40" x2="388.40" y2="21.40" stroke="#999" stroke-width="0.6"/>
<text x="385.90" y="22.70" font-size="4.0" text-anchor="end" font-weight="bold" fill="#000" textLength="6.3" lengthAdjust="spacingAndGlyphs" stroke="#000" stroke-width="0.2">100</text>
<text transform="translate(375.05,75.85) rotate(-90)" font-size="4.6" fill="#222" stroke="#444" stroke-width="0.12" text-anchor="middle" font-weight="bold" textLength="44.30" lengthAdjust="spacingAndGlyphs">% of specific lysis</text>
<line x1="414.60" y1="130.60" x2="414.60" y2="132.10" stroke="#999" stroke-width="0.6"/>
<line x1="440.80" y1="130.60" x2="440.80" y2="132.10" stroke="#999" stroke-width="0.6"/>
<line x1="467.00" y1="130.60" x2="467.00" y2="132.10" stroke="#999" stroke-width="0.6"/>
<line x1="493.20" y1="130.60" x2="493.20" y2="132.10" stroke="#999" stroke-width="0.6"/>
<line x1="519.40" y1="130.60" x2="519.40" y2="132.10" stroke="#999" stroke-width="0.6"/>
<text x="415.10" y="144.10" font-size="7.0" text-anchor="middle" font-weight="bold" fill="#000" textLength="7.6" lengthAdjust="spacingAndGlyphs" stroke="#000" stroke-width="0.2">10</text>
<text x="441.30" y="144.10" font-size="7.0" text-anchor="middle" font-weight="bold" fill="#000" textLength="7.6" lengthAdjust="spacingAndGlyphs" stroke="#000" stroke-width="0.2">20</text>
<text x="467.50" y="144.10" font-size="7.0" text-anchor="middle" font-weight="bold" fill="#000" textLength="7.6" lengthAdjust="spacingAndGlyphs" stroke="#000" stroke-width="0.2">30</text>
<text x="493.70" y="144.10" font-size="7.0" text-anchor="middle" font-weight="bold" fill="#000" textLength="7.6" lengthAdjust="spacingAndGlyphs" stroke="#000" stroke-width="0.2">40</text>
<text x="416.40" y="157.70" font-size="13.2" text-anchor="start" font-weight="normal" fill="#000" textLength="54.6" lengthAdjust="spacingAndGlyphs" >E:T Ratio</text>
<text x="388.50" y="138.20" font-size="3.0" text-anchor="middle" font-weight="bold" fill="#000" textLength="1.8" lengthAdjust="spacingAndGlyphs" >0</text>
<line x1="391.67" y1="95.66" x2="391.67" y2="117.50" stroke="#666" stroke-width="0.7"/>
<line x1="390.37" y1="95.66" x2="392.97" y2="95.66" stroke="#666" stroke-width="0.7"/>
<line x1="390.37" y1="117.50" x2="392.97" y2="117.50" stroke="#666" stroke-width="0.7"/>
<line x1="394.95" y1="89.10" x2="394.95" y2="119.68" stroke="#666" stroke-width="0.7"/>
<line x1="393.65" y1="89.10" x2="396.25" y2="89.10" stroke="#666" stroke-width="0.7"/>
<line x1="393.65" y1="119.68" x2="396.25" y2="119.68" stroke="#666" stroke-width="0.7"/>
<line x1="401.50" y1="84.74" x2="401.50" y2="106.58" stroke="#666" stroke-width="0.7"/>
<line x1="400.20" y1="84.74" x2="402.80" y2="84.74" stroke="#666" stroke-width="0.7"/>
<line x1="400.20" y1="106.58" x2="402.80" y2="106.58" stroke="#666" stroke-width="0.7"/>
<line x1="414.60" y1="74.36" x2="414.60" y2="103.85" stroke="#666" stroke-width="0.7"/>
<line x1="413.30" y1="74.36" x2="415.90" y2="74.36" stroke="#666" stroke-width="0.7"/>
<line x1="413.30" y1="103.85" x2="415.90" y2="103.85" stroke="#666" stroke-width="0.7"/>
<line x1="440.80" y1="66.61" x2="440.80" y2="97.84" stroke="#666" stroke-width="0.7"/>
<line x1="439.50" y1="66.61" x2="442.10" y2="66.61" stroke="#666" stroke-width="0.7"/>
<line x1="439.50" y1="97.84" x2="442.10" y2="97.84" stroke="#666" stroke-width="0.7"/>
<line x1="493.20" y1="62.90" x2="493.20" y2="84.74" stroke="#666" stroke-width="0.7"/>
<line x1="491.90" y1="62.90" x2="494.50" y2="62.90" stroke="#666" stroke-width="0.7"/>
<line x1="491.90" y1="84.74" x2="494.50" y2="84.74" stroke="#666" stroke-width="0.7"/>
<line x1="391.67" y1="115.31" x2="391.67" y2="125.14" stroke="#666" stroke-width="0.7"/>
<line x1="390.37" y1="115.31" x2="392.97" y2="115.31" stroke="#666" stroke-width="0.7"/>
<line x1="390.37" y1="125.14" x2="392.97" y2="125.14" stroke="#666" stroke-width="0.7"/>
<line x1="394.95" y1="115.31" x2="394.95" y2="125.14" stroke="#666" stroke-width="0.7"/>
<line x1="393.65" y1="115.31" x2="396.25" y2="115.31" stroke="#666" stroke-width="0.7"/>
<line x1="393.65" y1="125.14" x2="396.25" y2="125.14" stroke="#666" stroke-width="0.7"/>
<line x1="401.50" y1="112.04" x2="401.50" y2="119.68" stroke="#666" stroke-width="0.7"/>
<line x1="400.20" y1="112.04" x2="402.80" y2="112.04" stroke="#666" stroke-width="0.7"/>
<line x1="400.20" y1="119.68" x2="402.80" y2="119.68" stroke="#666" stroke-width="0.7"/>
<line x1="414.60" y1="107.67" x2="414.60" y2="114.22" stroke="#666" stroke-width="0.7"/>
<line x1="413.30" y1="107.67" x2="415.90" y2="107.67" stroke="#666" stroke-width="0.7"/>
<line x1="413.30" y1="114.22" x2="415.90" y2="114.22" stroke="#666" stroke-width="0.7"/>
<line x1="440.80" y1="97.84" x2="440.80" y2="122.19" stroke="#666" stroke-width="0.7"/>
<line x1="439.50" y1="97.84" x2="442.10" y2="97.84" stroke="#666" stroke-width="0.7"/>
<line x1="439.50" y1="122.19" x2="442.10" y2="122.19" stroke="#666" stroke-width="0.7"/>
<line x1="493.20" y1="89.10" x2="493.20" y2="113.35" stroke="#666" stroke-width="0.7"/>
<line x1="491.90" y1="89.10" x2="494.50" y2="89.10" stroke="#666" stroke-width="0.7"/>
<line x1="491.90" y1="113.35" x2="494.50" y2="113.35" stroke="#666" stroke-width="0.7"/>
<polyline points="391.67,112.80 394.95,107.67 401.50,97.62 414.60,89.32 440.80,81.90 493.20,65.52" fill="none" stroke="#444" stroke-width="0.6" stroke-linejoin="round"/>
<polyline points="391.67,107.12 394.95,106.03 401.50,99.48 414.60,88.45 440.80,81.24 493.20,76.76" fill="none" stroke="#888" stroke-width="0.7" stroke-linejoin="round"/>
<polyline points="391.67,120.55 394.95,120.55 401.50,115.42 414.60,111.05 440.80,110.51 493.20,100.24" fill="none" stroke="#444" stroke-width="0.6" stroke-linejoin="round"/>
<circle cx="391.67" cy="112.80" r="1.4" fill="#000" stroke="#000" stroke-width="0.3"/>
<circle cx="394.95" cy="107.67" r="1.4" fill="#000" stroke="#000" stroke-width="0.3"/>
<circle cx="401.50" cy="97.62" r="1.4" fill="#000" stroke="#000" stroke-width="0.3"/>
<circle cx="414.60" cy="89.32" r="1.4" fill="#000" stroke="#000" stroke-width="0.3"/>
<circle cx="440.80" cy="81.90" r="1.4" fill="#000" stroke="#000" stroke-width="0.3"/>
<circle cx="493.20" cy="65.52" r="1.4" fill="#000" stroke="#000" stroke-width="0.3"/>
<circle cx="391.67" cy="107.12" r="1.5" fill="#fff" stroke="#666" stroke-width="0.5"/>
<circle cx="394.95" cy="106.03" r="1.5" fill="#fff" stroke="#666" stroke-width="0.5"/>
<circle cx="401.50" cy="99.48" r="1.5" fill="#fff" stroke="#666" stroke-width="0.5"/>
<circle cx="414.60" cy="88.45" r="1.5" fill="#fff" stroke="#666" stroke-width="0.5"/>
<circle cx="440.80" cy="81.24" r="1.5" fill="#fff" stroke="#666" stroke-width="0.5"/>
<circle cx="493.20" cy="76.76" r="1.5" fill="#fff" stroke="#666" stroke-width="0.5"/>
<polygon points="390.27,119.57 393.07,119.57 391.67,121.95" fill="#000" stroke="#000" stroke-width="0.3"/>
<polygon points="393.55,119.57 396.35,119.57 394.95,121.95" fill="#000" stroke="#000" stroke-width="0.3"/>
<polygon points="400.10,114.44 402.90,114.44 401.50,116.82" fill="#000" stroke="#000" stroke-width="0.3"/>
<polygon points="413.20,110.07 416.00,110.07 414.60,112.45" fill="#000" stroke="#000" stroke-width="0.3"/>
<polygon points="439.40,109.53 442.20,109.53 440.80,111.91" fill="#000" stroke="#000" stroke-width="0.3"/>
<polygon points="491.80,99.26 494.60,99.26 493.20,101.64" fill="#000" stroke="#000" stroke-width="0.3"/>
<line x1="397.50" y1="33.40" x2="411.20" y2="33.40" stroke="#444" stroke-width="0.6"/>
<circle cx="404.70" cy="33.40" r="1.3" fill="#000" stroke="#000" stroke-width="0.5"/>
<text x="414.80" y="35.40" font-size="6.4" text-anchor="start" font-weight="bold" fill="#000" textLength="13.8" lengthAdjust="spacingAndGlyphs" >p110</text>
<text x="429.10" y="35.40" font-size="6.6" text-anchor="start" font-weight="normal" fill="#666" textLength="3.4" lengthAdjust="spacingAndGlyphs" >&#948;</text>
<text x="433.00" y="35.40" font-size="6.4" text-anchor="start" font-weight="bold" fill="#000" textLength="34.8" lengthAdjust="spacingAndGlyphs" >KO NK cells</text>
<line x1="397.50" y1="41.90" x2="411.20" y2="41.90" stroke="#777" stroke-width="0.6"/>
<circle cx="404.70" cy="41.90" r="1.3" fill="#fff" stroke="#777" stroke-width="0.5"/>
<text x="414.80" y="43.90" font-size="6.4" text-anchor="start" font-weight="bold" fill="#000" textLength="13.8" lengthAdjust="spacingAndGlyphs" >p110</text>
<text x="429.10" y="43.90" font-size="6.6" text-anchor="start" font-weight="normal" fill="#666" textLength="3.4" lengthAdjust="spacingAndGlyphs" >&#948;</text>
<text x="433.00" y="43.90" font-size="6.4" text-anchor="start" font-weight="bold" fill="#000" textLength="59.9" lengthAdjust="spacingAndGlyphs" >KO NK cells + DMSO</text>
<line x1="397.50" y1="50.40" x2="411.20" y2="50.40" stroke="#444" stroke-width="0.6"/>
<polygon points="403.40,49.49 406.00,49.49 404.70,51.70" fill="#000" stroke="#000" stroke-width="0.5"/>
<text x="414.80" y="52.40" font-size="6.4" text-anchor="start" font-weight="bold" fill="#000" textLength="13.8" lengthAdjust="spacingAndGlyphs" >p110</text>
<text x="429.10" y="52.40" font-size="6.6" text-anchor="start" font-weight="normal" fill="#666" textLength="3.4" lengthAdjust="spacingAndGlyphs" >&#948;</text>
<text x="433.00" y="52.40" font-size="6.4" text-anchor="start" font-weight="bold" fill="#000" textLength="70.1" lengthAdjust="spacingAndGlyphs" >KO NK cells + AS252424</text>
<rect x="385.60" y="196.50" width="131.70" height="108.10" fill="none" stroke="#a8a8a8" stroke-width="0.8"/>
<line x1="384.10" y1="304.60" x2="385.60" y2="304.60" stroke="#999" stroke-width="0.6"/>
<text x="383.30" y="306.10" font-size="4.0" text-anchor="end" font-weight="bold" fill="#000" textLength="2.1" lengthAdjust="spacingAndGlyphs" stroke="#000" stroke-width="0.2">0</text>
<line x1="384.10" y1="282.98" x2="385.60" y2="282.98" stroke="#999" stroke-width="0.6"/>
<text x="383.30" y="284.48" font-size="4.0" text-anchor="end" font-weight="bold" fill="#000" textLength="4.3" lengthAdjust="spacingAndGlyphs" stroke="#000" stroke-width="0.2">20</text>
<line x1="384.10" y1="261.36" x2="385.60" y2="261.36" stroke="#999" stroke-width="0.6"/>
<text x="383.30" y="262.86" font-size="4.0" text-anchor="end" font-weight="bold" fill="#000" textLength="4.3" lengthAdjust="spacingAndGlyphs" stroke="#000" stroke-width="0.2">40</text>
<line x1="384.10" y1="239.74" x2="385.60" y2="239.74" stroke="#999" stroke-width="0.6"/>
<text x="383.30" y="241.24" font-size="4.0" text-anchor="end" font-weight="bold" fill="#000" textLength="4.3" lengthAdjust="spacingAndGlyphs" stroke="#000" stroke-width="0.2">60</text>
<line x1="384.10" y1="218.12" x2="385.60" y2="218.12" stroke="#999" stroke-width="0.6"/>
<text x="383.30" y="219.62" font-size="4.0" text-anchor="end" font-weight="bold" fill="#000" textLength="4.3" lengthAdjust="spacingAndGlyphs" stroke="#000" stroke-width="0.2">80</text>
<line x1="384.10" y1="196.50" x2="385.60" y2="196.50" stroke="#999" stroke-width="0.6"/>
<text x="383.30" y="198.00" font-size="4.0" text-anchor="end" font-weight="bold" fill="#000" textLength="6.3" lengthAdjust="spacingAndGlyphs" stroke="#000" stroke-width="0.2">100</text>
<text transform="translate(372.50,250.40) rotate(-90)" font-size="4.6" fill="#222" stroke="#444" stroke-width="0.12" text-anchor="middle" font-weight="bold" textLength="44.00" lengthAdjust="spacingAndGlyphs">% of specific lysis</text>
<line x1="411.98" y1="304.60" x2="411.98" y2="306.10" stroke="#999" stroke-width="0.6"/>
<line x1="438.35" y1="304.60" x2="438.35" y2="306.10" stroke="#999" stroke-width="0.6"/>
<line x1="464.73" y1="304.60" x2="464.73" y2="306.10" stroke="#999" stroke-width="0.6"/>
<line x1="491.10" y1="304.60" x2="491.10" y2="306.10" stroke="#999" stroke-width="0.6"/>
<line x1="517.48" y1="304.60" x2="517.48" y2="306.10" stroke="#999" stroke-width="0.6"/>
<text x="411.28" y="319.00" font-size="7.0" text-anchor="middle" font-weight="bold" fill="#000" textLength="7.6" lengthAdjust="spacingAndGlyphs" stroke="#000" stroke-width="0.2">10</text>
<text x="437.65" y="319.00" font-size="7.0" text-anchor="middle" font-weight="bold" fill="#000" textLength="7.6" lengthAdjust="spacingAndGlyphs" stroke="#000" stroke-width="0.2">20</text>
<text x="464.03" y="319.00" font-size="7.0" text-anchor="middle" font-weight="bold" fill="#000" textLength="7.6" lengthAdjust="spacingAndGlyphs" stroke="#000" stroke-width="0.2">30</text>
<text x="490.40" y="319.00" font-size="7.0" text-anchor="middle" font-weight="bold" fill="#000" textLength="7.6" lengthAdjust="spacingAndGlyphs" stroke="#000" stroke-width="0.2">40</text>
<text x="517.10" y="311.30" font-size="3.0" text-anchor="middle" font-weight="bold" fill="#000" textLength="3.2" lengthAdjust="spacingAndGlyphs" stroke="#000" stroke-width="0.15">50</text>
<text x="421.60" y="332.70" font-size="13.2" text-anchor="start" font-weight="normal" fill="#000" textLength="54.6" lengthAdjust="spacingAndGlyphs" >E:T Ratio</text>
<line x1="388.90" y1="274.44" x2="388.90" y2="289.47" stroke="#666" stroke-width="0.7"/>
<line x1="387.60" y1="274.44" x2="390.20" y2="274.44" stroke="#666" stroke-width="0.7"/>
<line x1="387.60" y1="289.47" x2="390.20" y2="289.47" stroke="#666" stroke-width="0.7"/>
<line x1="392.19" y1="267.74" x2="392.19" y2="286.22" stroke="#666" stroke-width="0.7"/>
<line x1="390.89" y1="267.74" x2="393.49" y2="267.74" stroke="#666" stroke-width="0.7"/>
<line x1="390.89" y1="286.22" x2="393.49" y2="286.22" stroke="#666" stroke-width="0.7"/>
<line x1="398.79" y1="259.09" x2="398.79" y2="277.58" stroke="#666" stroke-width="0.7"/>
<line x1="397.49" y1="259.09" x2="400.09" y2="259.09" stroke="#666" stroke-width="0.7"/>
<line x1="397.49" y1="277.58" x2="400.09" y2="277.58" stroke="#666" stroke-width="0.7"/>
<line x1="411.98" y1="254.23" x2="411.98" y2="270.01" stroke="#666" stroke-width="0.7"/>
<line x1="410.68" y1="254.23" x2="413.28" y2="254.23" stroke="#666" stroke-width="0.7"/>
<line x1="410.68" y1="270.01" x2="413.28" y2="270.01" stroke="#666" stroke-width="0.7"/>
<line x1="438.35" y1="242.87" x2="438.35" y2="261.36" stroke="#666" stroke-width="0.7"/>
<line x1="437.05" y1="242.87" x2="439.65" y2="242.87" stroke="#666" stroke-width="0.7"/>
<line x1="437.05" y1="261.36" x2="439.65" y2="261.36" stroke="#666" stroke-width="0.7"/>
<line x1="491.10" y1="232.71" x2="491.10" y2="253.79" stroke="#666" stroke-width="0.7"/>
<line x1="489.80" y1="232.71" x2="492.40" y2="232.71" stroke="#666" stroke-width="0.7"/>
<line x1="489.80" y1="253.79" x2="492.40" y2="253.79" stroke="#666" stroke-width="0.7"/>
<line x1="388.90" y1="289.47" x2="388.90" y2="297.25" stroke="#666" stroke-width="0.7"/>
<line x1="387.60" y1="289.47" x2="390.20" y2="289.47" stroke="#666" stroke-width="0.7"/>
<line x1="387.60" y1="297.25" x2="390.20" y2="297.25" stroke="#666" stroke-width="0.7"/>
<line x1="392.19" y1="278.66" x2="392.19" y2="293.79" stroke="#666" stroke-width="0.7"/>
<line x1="390.89" y1="278.66" x2="393.49" y2="278.66" stroke="#666" stroke-width="0.7"/>
<line x1="390.89" y1="293.79" x2="393.49" y2="293.79" stroke="#666" stroke-width="0.7"/>
<line x1="398.79" y1="265.68" x2="398.79" y2="294.01" stroke="#666" stroke-width="0.7"/>
<line x1="397.49" y1="265.68" x2="400.09" y2="265.68" stroke="#666" stroke-width="0.7"/>
<line x1="397.49" y1="294.01" x2="400.09" y2="294.01" stroke="#666" stroke-width="0.7"/>
<line x1="411.98" y1="255.96" x2="411.98" y2="281.68" stroke="#666" stroke-width="0.7"/>
<line x1="410.68" y1="255.96" x2="413.28" y2="255.96" stroke="#666" stroke-width="0.7"/>
<line x1="410.68" y1="281.68" x2="413.28" y2="281.68" stroke="#666" stroke-width="0.7"/>
<line x1="438.35" y1="244.06" x2="438.35" y2="275.85" stroke="#666" stroke-width="0.7"/>
<line x1="437.05" y1="244.06" x2="439.65" y2="244.06" stroke="#666" stroke-width="0.7"/>
<line x1="437.05" y1="275.85" x2="439.65" y2="275.85" stroke="#666" stroke-width="0.7"/>
<line x1="491.10" y1="244.06" x2="491.10" y2="258.33" stroke="#666" stroke-width="0.7"/>
<line x1="489.80" y1="244.06" x2="492.40" y2="244.06" stroke="#666" stroke-width="0.7"/>
<line x1="489.80" y1="258.33" x2="492.40" y2="258.33" stroke="#666" stroke-width="0.7"/>
<polyline points="388.90,287.95 392.19,281.03 398.79,271.74 411.98,262.77 438.35,252.60 491.10,248.28" fill="none" stroke="#666" stroke-width="0.6" stroke-linejoin="round"/>
<polyline points="388.90,282.01 392.19,278.55 398.79,269.79 411.98,261.04 438.35,252.60 491.10,245.58" fill="none" stroke="#333" stroke-width="0.6" stroke-linejoin="round"/>
<polyline points="388.90,293.79 392.19,285.25 398.79,279.85 411.98,269.04 438.35,260.17 491.10,251.52" fill="none" stroke="#444" stroke-width="0.6" stroke-linejoin="round"/>
<circle cx="388.90" cy="287.95" r="1.5" fill="#fff" stroke="#555" stroke-width="0.5"/>
<circle cx="392.19" cy="281.03" r="1.5" fill="#fff" stroke="#555" stroke-width="0.5"/>
<circle cx="398.79" cy="271.74" r="1.5" fill="#fff" stroke="#555" stroke-width="0.5"/>
<circle cx="411.98" cy="262.77" r="1.5" fill="#fff" stroke="#555" stroke-width="0.5"/>
<circle cx="438.35" cy="252.60" r="1.5" fill="#fff" stroke="#555" stroke-width="0.5"/>
<circle cx="491.10" cy="248.28" r="1.5" fill="#fff" stroke="#555" stroke-width="0.5"/>
<circle cx="388.90" cy="282.01" r="1.4" fill="#000" stroke="#000" stroke-width="0.3"/>
<circle cx="392.19" cy="278.55" r="1.4" fill="#000" stroke="#000" stroke-width="0.3"/>
<circle cx="398.79" cy="269.79" r="1.4" fill="#000" stroke="#000" stroke-width="0.3"/>
<circle cx="411.98" cy="261.04" r="1.4" fill="#000" stroke="#000" stroke-width="0.3"/>
<circle cx="438.35" cy="252.60" r="1.4" fill="#000" stroke="#000" stroke-width="0.3"/>
<circle cx="491.10" cy="245.58" r="1.4" fill="#000" stroke="#000" stroke-width="0.3"/>
<polygon points="387.50,292.81 390.30,292.81 388.90,295.19" fill="#000" stroke="#000" stroke-width="0.3"/>
<polygon points="390.79,284.27 393.59,284.27 392.19,286.65" fill="#000" stroke="#000" stroke-width="0.3"/>
<polygon points="397.39,278.87 400.19,278.87 398.79,281.25" fill="#000" stroke="#000" stroke-width="0.3"/>
<polygon points="410.58,268.06 413.38,268.06 411.98,270.44" fill="#000" stroke="#000" stroke-width="0.3"/>
<polygon points="436.95,259.19 439.75,259.19 438.35,261.57" fill="#000" stroke="#000" stroke-width="0.3"/>
<polygon points="489.70,250.54 492.50,250.54 491.10,252.92" fill="#000" stroke="#000" stroke-width="0.3"/>
<line x1="390.40" y1="209.20" x2="402.20" y2="209.20" stroke="#555" stroke-width="0.6"/>
<circle cx="396.30" cy="209.20" r="1.3" fill="#000" stroke="#000" stroke-width="0.5"/>
<text x="406.20" y="211.50" font-size="6.6" text-anchor="start" font-weight="bold" fill="#000" textLength="13.9" lengthAdjust="spacingAndGlyphs" >p110</text>
<line x1="420.40" y1="210.20" x2="421.30" y2="210.20" stroke="#444" stroke-width="0.6"/>
<text x="421.50" y="212.20" font-size="6.2" text-anchor="start" font-weight="normal" fill="#222" textLength="3.4" lengthAdjust="spacingAndGlyphs" >&#947;</text>
<text x="426.80" y="211.50" font-size="6.6" text-anchor="start" font-weight="bold" fill="#000" textLength="35.3" lengthAdjust="spacingAndGlyphs" >KO NK cellls</text>
<line x1="390.40" y1="217.50" x2="402.20" y2="217.50" stroke="#555" stroke-width="0.6"/>
<circle cx="396.30" cy="217.50" r="1.3" fill="#fff" stroke="#777" stroke-width="0.5"/>
<text x="406.20" y="219.80" font-size="6.6" text-anchor="start" font-weight="bold" fill="#000" textLength="13.9" lengthAdjust="spacingAndGlyphs" >p110</text>
<line x1="420.40" y1="218.50" x2="421.30" y2="218.50" stroke="#444" stroke-width="0.6"/>
<text x="421.50" y="220.50" font-size="6.2" text-anchor="start" font-weight="normal" fill="#222" textLength="3.4" lengthAdjust="spacingAndGlyphs" >&#947;</text>
<text x="426.80" y="219.80" font-size="6.6" text-anchor="start" font-weight="bold" fill="#000" textLength="58.4" lengthAdjust="spacingAndGlyphs" >KO NK cells + DMSO</text>
<line x1="390.40" y1="225.80" x2="402.20" y2="225.80" stroke="#555" stroke-width="0.6"/>
<polygon points="395.00,224.89 397.60,224.89 396.30,227.10" fill="#000" stroke="#000" stroke-width="0.5"/>
<text x="406.20" y="228.10" font-size="6.6" text-anchor="start" font-weight="bold" fill="#000" textLength="13.9" lengthAdjust="spacingAndGlyphs" >p110</text>
<line x1="420.40" y1="226.80" x2="421.30" y2="226.80" stroke="#444" stroke-width="0.6"/>
<text x="421.50" y="228.80" font-size="6.2" text-anchor="start" font-weight="normal" fill="#222" textLength="3.4" lengthAdjust="spacingAndGlyphs" >&#947;</text>
<text x="426.80" y="228.10" font-size="6.6" text-anchor="start" font-weight="bold" fill="#000" textLength="68.0" lengthAdjust="spacingAndGlyphs" >KO NK cells + AS252424</text>
</svg>
</body></html>
